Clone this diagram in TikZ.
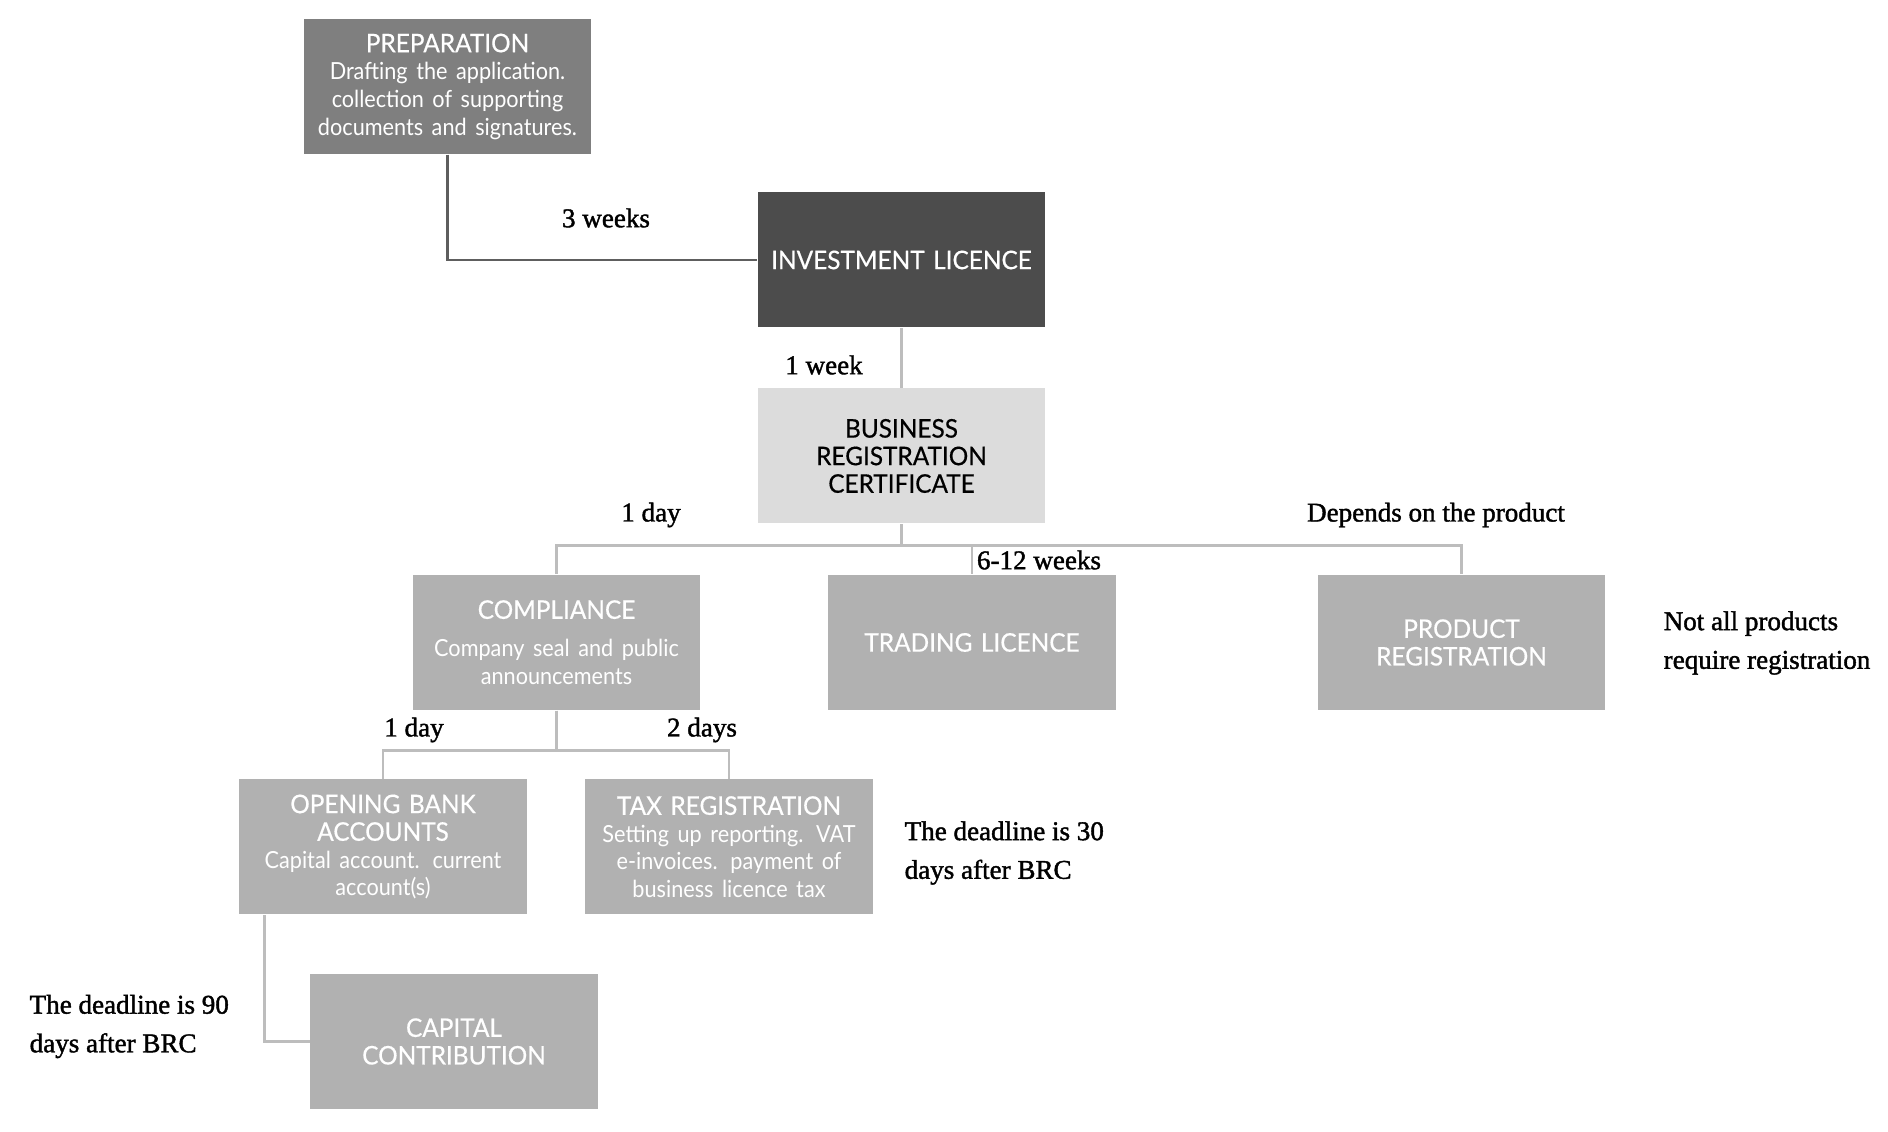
\documentclass[tikz,border=0pt]{standalone}
\usepackage{fontspec}
\setmainfont{Liberation Serif}
\newfontfamily\notefont[FakeBold=1.5]{Liberation Serif}
\newfontfamily\boxfont[FakeStretch=0.95, FakeBold=0.5]{Lato}
\newfontfamily\detailfont[FakeStretch=0.92]{Lato}
\newcommand{\detail}{\detailfont\fontsize{6.7}{7.85}\selectfont}

\definecolor{gristitre}{HTML}{7F7F7F}
\definecolor{grisfonce}{HTML}{4C4C4C}
\definecolor{grisclair}{HTML}{DCDCDC}
\definecolor{grisboite}{HTML}{B1B1B1}
\definecolor{grislien}{HTML}{BDBDBD}

\begin{document}
\begin{tikzpicture}[
    etape/.style={minimum width=2.85cm, minimum height=1.35cm, text width=2.8cm,
        inner sep=1pt, align=center, text=white, fill=grisboite,
        font=\boxfont\fontsize{7.3}{7.85}\selectfont},
    lien/.style={line width=.8pt, draw=grislien},
    duree/.style={font=\notefont\fontsize{7.7}{11}\selectfont, inner sep=0pt},
]

    \useasboundingbox (0,0) rectangle (18.88,11.32);

    % etapes
    \node[etape, fill=gristitre] (prep) at (4.475,10.455) {PREPARATION\\ \detail Drafting the application.\\ collection of supporting\\ documents and signatures.};
    \node[etape, fill=grisfonce] (inv) at (9.015,8.72) {INVESTMENT LICENCE};
    \node[etape, fill=grisclair, text=black] (brc) at (9.015,6.76) {BUSINESS\\ REGISTRATION\\ CERTIFICATE};
    \node[etape] (comp) at (5.565,4.895) {COMPLIANCE\\[3pt] \detail Company seal and public\\ announcements};
    \node[etape] (trade) at (9.72,4.895) {TRADING LICENCE};
    \node[etape] (prod) at (14.615,4.895) {PRODUCT\\ REGISTRATION};
    \node[etape] (bank) at (3.83,2.85) {OPENING BANK\\ ACCOUNTS\\ \detail Capital account. current\\ account(s)};
    \node[etape] (tax) at (7.29,2.85) {TAX REGISTRATION\\ \detail Setting up reporting. VAT\\ e-invoices. payment of\\ business licence tax};
    \node[etape] (cap) at (4.54,0.905) {CAPITAL\\ CONTRIBUTION};

    % liens
    \draw[lien, draw=grisfonce!90] (prep.south) |- (inv.west);
    \draw[lien] (inv) -- (brc);
    \draw[lien] (brc.south) -- ++(0,-.21) -| (comp.north);
    \draw[lien] (brc.south) -- ++(0,-.21) -| (trade.north);
    \draw[lien] (brc.south) -- ++(0,-.21) -| (prod.north);
    \draw[lien] (comp.south) -- ++(0,-.4) -| (bank.north);
    \draw[lien] (comp.south) -- ++(0,-.4) -| (tax.north);
    \draw[lien] ([xshift=.26cm]bank.south west) |- (cap.west);

    % durees
    \node[duree] (d3w) at (6.06,9.14) {3 weeks};
    \node[duree] (d1w) at (8.24,7.67) {1 week};
    \node[duree] (d1d) at (6.51,6.17) {1 day};
    \node[duree] (dprod) at (14.36,6.17) {Depends on the product};
    \node[duree] (d612) at (10.39,5.72) {6-12 weeks};
    \node[duree] (d1db) at (4.14,4.02) {1 day};
    \node[duree] (d2d) at (7.02,4.02) {2 days};

    % remarques
    \node[duree, anchor=west, align=left] (nprod) at (16.63,4.89) {Not all products\\ require registration};
    \node[duree, anchor=west, align=left] (n30) at (9.04,2.79) {The deadline is 30\\ days after BRC};
    \node[duree, anchor=west, align=left] (n90) at (0.29,1.055) {The deadline is 90\\ days after BRC};

\end{tikzpicture}
\end{document}
